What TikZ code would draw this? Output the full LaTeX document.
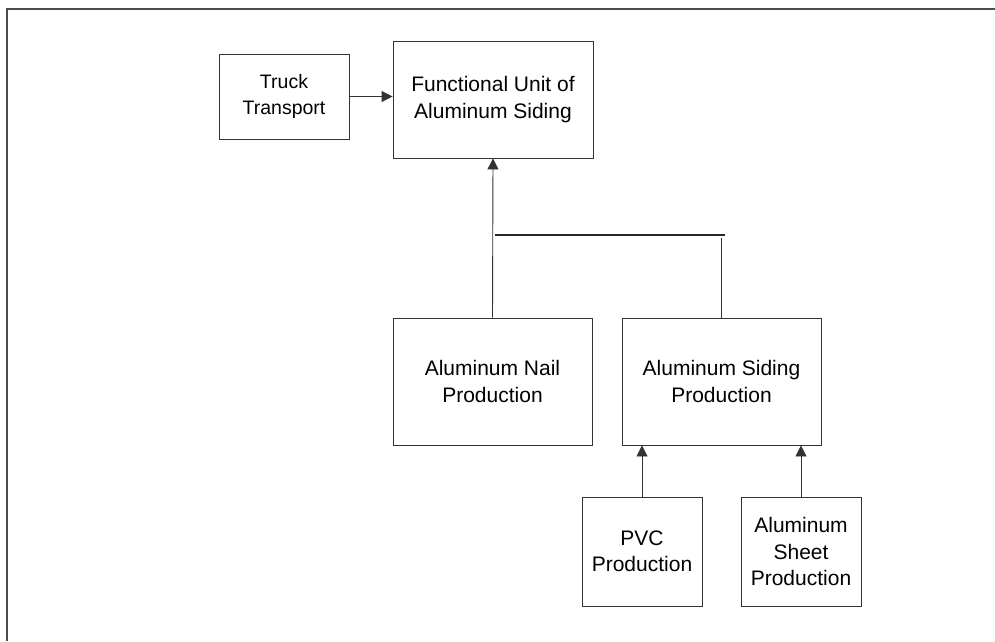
\documentclass[tikz,border=0pt]{standalone}
\usepackage{fontspec}
\setmainfont{Liberation Sans}
\usetikzlibrary{arrows.meta}

\tikzset{
  unitbox/.style={draw=black!80, line width=0.9pt, align=center, inner sep=0pt,
    font=\fontsize{21}{26.5}\selectfont},
  flowarr/.style={draw=black!80, line width=0.9pt, -{Triangle[length=11pt,width=11pt]}},
  flowline/.style={draw=black!80, line width=0.9pt},
}

\begin{document}
\begin{tikzpicture}[x=1pt, y=-1pt]
  \useasboundingbox (0,0) rectangle (995,641);

  % Rahmen
  \draw[gray!60!black, line width=2.2pt] (7,641) -- (7,9) -- (995,9);

  % Kasten
  \node[unitbox, minimum width=130pt, minimum height=85pt,
        font=\fontsize{19.5}{26}\selectfont] (truck) at (284,96.5) {Truck\\Transport};
  \node[unitbox, minimum width=200pt, minimum height=117pt] (fu) at (493,99.5) {Functional Unit of\\Aluminum Siding};
  \node[unitbox, minimum width=199pt, minimum height=127pt] (nail) at (492.5,381.5) {Aluminum Nail\\Production};
  \node[unitbox, minimum width=199pt, minimum height=127pt] (siding) at (721.5,381.5) {Aluminum Siding\\Production};
  \node[unitbox, minimum width=120pt, minimum height=109pt] (pvc) at (642,551.5) {PVC\\Production};
  \node[unitbox, minimum width=120pt, minimum height=109pt] (sheet) at (801,551.5) {Aluminum\\Sheet\\Production};

  % Verbindungen
  \coordinate (barL) at (495,235);
  \coordinate (barR) at (725,235);
  \draw[flowarr] (truck.east) -- (truck.east -| fu.west);
  \draw[flowarr] (nail.north) -- (fu.south);
  \draw[black!85, line width=2pt] (barL) -- (barR);
  \draw[flowline] (siding.north) -- ([yshift=-3pt]siding.north |- barR);
  \draw[flowarr] (pvc.north) -- (pvc.north |- siding.south);
  \draw[flowarr] (sheet.north) -- (sheet.north |- siding.south);
\end{tikzpicture}
\end{document}
